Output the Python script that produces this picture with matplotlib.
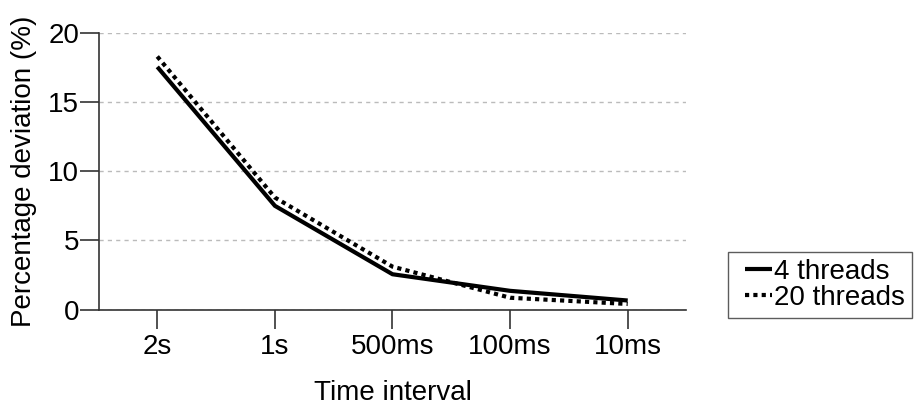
import matplotlib
matplotlib.use("Agg")
import matplotlib.pyplot as plt
from matplotlib.legend_handler import HandlerLine2D

intervals = ["2s", "1s", "500ms", "100ms", "10ms"]
dev_4_threads = [17.55, 7.5, 2.55, 1.35, 0.65]
dev_20_threads = [18.3, 8.1, 3.1, 0.85, 0.4]
y_ticks = [0, 5, 10, 15, 20]

plt.rcParams["font.family"] = ["Liberation Sans", "DejaVu Sans"]


class InsetLineHandler(HandlerLine2D):
    """Legend line that occupies only the right part of the handle slot."""

    def get_xdata(self, legend, xdescent, ydescent, width, height, fontsize):
        x0 = -xdescent + 0.27 * width
        x1 = -xdescent + width
        return [x0, x1], [x0, x1]


W, H = 923, 408
fig = plt.figure(figsize=(W / 100, H / 100), dpi=100)
ax = fig.add_axes([98.5 / W, 1 - 309.5 / H, (686.5 - 98.5) / W, (309.5 - 33) / H])

x = list(range(len(intervals)))
l4, = ax.plot(x, dev_4_threads, color="black", lw=3, solid_capstyle="butt",
              solid_joinstyle="miter", label="4 threads")
l20, = ax.plot(x, dev_20_threads, color="black", lw=3, linestyle=(0, (1, 1)),
               label="20 threads")

ax.set_xlim(-0.5, len(intervals) - 0.5)
ax.set_ylim(0, 20)
ax.set_xticks(x)
ax.set_xticklabels(intervals)
ax.set_yticks(y_ticks)

for s in ["top", "right"]:
    ax.spines[s].set_visible(False)
for s in ["left", "bottom"]:
    ax.spines[s].set_color("#333333")
    ax.spines[s].set_linewidth(1.2)

ax.yaxis.grid(True, color="#bbbbbb", linestyle=(0, (3, 3)), linewidth=1)
ax.set_axisbelow(True)

ax.tick_params(axis="x", direction="out", length=14, width=1.2, color="#333333",
               labelsize=20, pad=4)
ax.tick_params(axis="y", direction="out", length=14, width=1.2, color="#333333",
               labelsize=20, pad=0)

ax.set_xlabel("Time interval", fontsize=20, labelpad=14)
ax.set_ylabel("Percentage deviation (%)", fontsize=20, labelpad=8)

handler = InsetLineHandler()
leg = ax.legend(handles=[l4, l20], loc="center left",
                bbox_to_anchor=(728 / W, 1 - 285 / H),
                bbox_transform=fig.transFigure, frameon=True, fancybox=False,
                fontsize=20, handlelength=1.35, handletextpad=0.05,
                borderpad=0.25, labelspacing=0.0, borderaxespad=0,
                handler_map={l4: handler, l20: handler})
leg.get_frame().set_edgecolor("#333333")
leg.get_frame().set_linewidth(1)

fig.savefig("out.png", dpi=100)
